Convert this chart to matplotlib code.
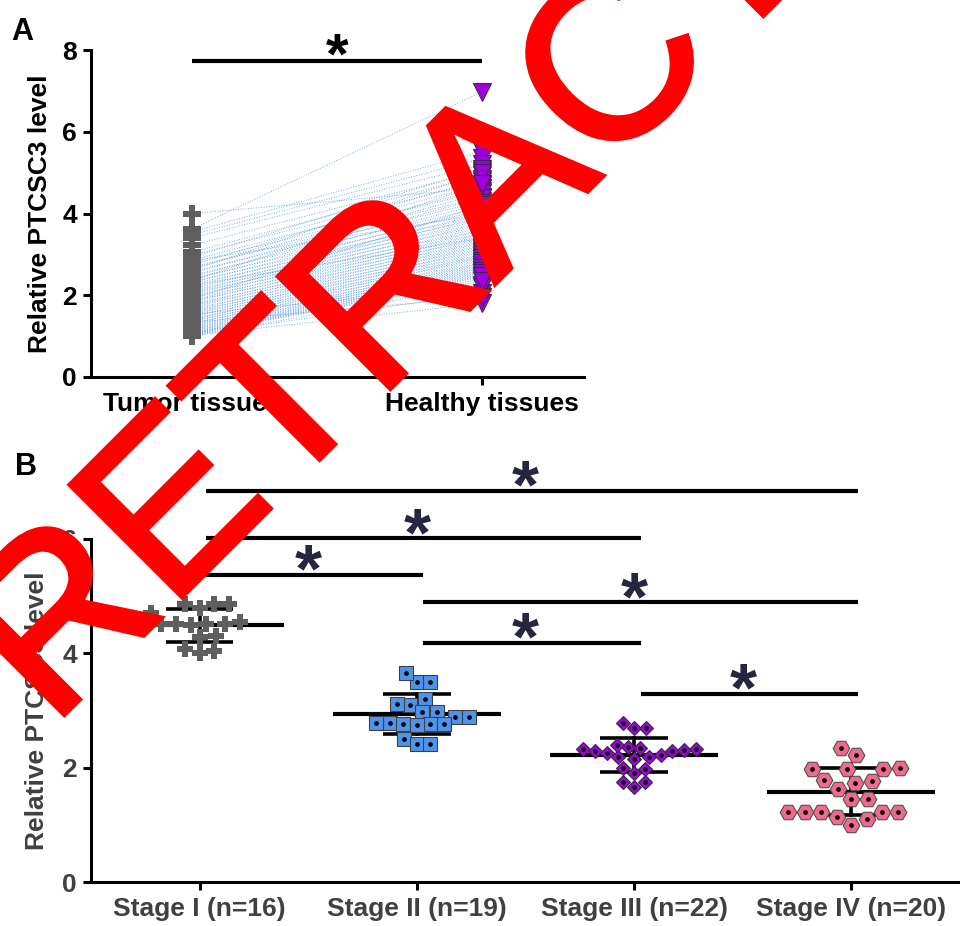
import matplotlib
matplotlib.use('Agg')
import matplotlib.pyplot as plt
import matplotlib.patheffects as pe
import numpy as np

plt.rcParams['font.family'] = ['Liberation Sans', 'DejaVu Sans']

# Panel A: paired samples (tumor vs matched healthy tissue)
pair_groups = ['Tumor tissues', 'Healthy tissues']
tumor = [4.00, 3.62, 3.55, 3.48, 3.40, 3.22, 3.05, 2.98, 2.93, 2.86,
         2.80, 2.74, 2.69, 2.65, 2.58, 2.54, 2.49, 2.45, 2.41, 2.37,
         2.33, 2.31, 2.27, 2.22, 2.19, 2.15, 2.12, 2.08, 2.06, 2.02,
         1.99, 1.96, 1.93, 1.88, 1.86, 1.83, 1.79, 1.76, 1.74, 1.70,
         1.67, 1.63, 1.61, 1.58, 1.56, 1.52, 1.49, 1.47, 1.43, 1.40,
         1.38, 1.35, 1.32, 1.30, 1.27, 1.24, 1.22, 1.19, 1.17, 1.15,
         1.13, 1.11, 1.09, 1.07, 1.06, 1.04, 1.03, 1.01, 1.00,
         2.61, 2.36, 1.91, 2.84, 2.25, 1.54, 1.34, 1.05]
healthy = [4.62, 6.98, 5.52, 5.35, 5.20, 5.05, 4.95, 4.80, 5.10, 4.70,
           4.55, 4.85, 4.40, 4.62, 4.30, 4.50, 4.15, 4.38, 4.05, 4.25,
           3.95, 4.10, 3.88, 4.00, 3.78, 3.92, 3.70, 3.85, 3.60, 3.75,
           3.52, 3.66, 3.45, 3.58, 3.38, 3.50, 3.30, 3.42, 3.22, 3.35,
           3.15, 3.28, 3.08, 3.20, 3.00, 3.12, 2.94, 3.05, 2.88, 2.98,
           2.80, 2.92, 2.74, 2.85, 2.68, 2.78, 2.62, 2.72, 2.56, 2.66,
           2.50, 2.60, 2.45, 2.54, 2.40, 2.48, 2.05, 1.80, 2.25,
           5.00, 4.72, 4.20, 3.98, 3.40, 2.20, 1.95, 2.35]

# Panel B: expression by clinical stage
stages = ['Stage I (n=16)', 'Stage II (n=19)', 'Stage III (n=22)', 'Stage IV (n=20)']
stage1 = [4.86, 4.86, 4.86, 4.80, 4.70, 4.55, 4.52, 4.52, 4.50, 4.52,
          4.52, 4.30, 4.28, 4.08, 4.00, 4.04]
stage2 = [3.50, 3.50, 3.65, 3.20, 3.09, 3.12, 2.97, 2.97, 2.89, 2.78,
          2.76, 2.76, 2.75, 2.77, 2.78, 2.89, 2.50, 2.41, 2.41]
stage3 = [2.78, 2.70, 2.70, 2.37, 2.32, 2.30, 2.31, 2.22, 2.18, 2.16,
          2.18, 2.25, 2.30, 2.34, 2.32, 2.40, 1.98, 1.99, 1.75, 1.67,
          1.75, 1.91]
stage4 = [2.34, 2.22, 1.98, 1.98, 1.98, 1.99, 1.78, 1.73, 1.77, 1.63,
          1.45, 1.45, 1.22, 1.22, 1.14, 1.00, 1.10, 1.22, 1.22, 1.22]
stage_data = [stage1, stage2, stage3, stage4]

# significant comparisons (group i, group j) and bar heights
comparisons = [(0, 3), (0, 2), (0, 1), (1, 3), (1, 2), (2, 3)]
comp_heights = [6.84, 6.01, 5.37, 4.89, 4.18, 3.29]

W, H = 960, 926
fig = plt.figure(figsize=(W / 100, H / 100), dpi=100)


def style_axis(ax, color):
    for s in ['top', 'right']:
        ax.spines[s].set_visible(False)
    for s in ['left', 'bottom']:
        ax.spines[s].set_linewidth(2.2)
        ax.spines[s].set_color('black')
    ax.tick_params(width=2.2, length=6, color='black', labelcolor=color,
                   labelsize=19, pad=4)
    for lab in ax.get_xticklabels() + ax.get_yticklabels():
        lab.set_fontweight('bold')


def swarm_offsets(vals, d, ppx, ppy):
    # simple beeswarm layout in pixel space
    y = np.asarray(vals) * ppy
    xs = np.zeros(len(y))
    placed = []
    for i in np.argsort(y, kind='stable'):
        cands = [0.0]
        for j in placed:
            dy = y[i] - y[j]
            if abs(dy) < d:
                dx = np.sqrt(d * d - dy * dy)
                cands += [xs[j] + dx, xs[j] - dx]
        cands.sort(key=abs)
        for c in cands:
            if all((c - xs[j]) ** 2 + (y[i] - y[j]) ** 2 >= d * d - 1e-6 for j in placed):
                xs[i] = c
                break
        placed.append(i)
    return xs / ppx


# ---------------- Panel A ----------------
axA = fig.add_axes([91 / W, (H - 377) / H, (584 - 91) / W, (377 - 50) / H])
for t, h in zip(tumor, healthy):
    axA.plot([0, 1], [t, h], linestyle=':', color='#4a90e2', lw=0.7, alpha=0.75, zorder=2)
axA.plot(np.zeros(len(tumor)), tumor, 'P', ms=13, color='#5f5f5f', mec='#5f5f5f',
         mew=0, zorder=4, clip_on=False)
axA.plot(np.ones(len(healthy)), healthy, 'v', ms=12.5, color='#a000e0', mec='#3a2a4a',
         mew=0.8, zorder=4, clip_on=False)
axA.set_xlim(-0.347, 1.35)
axA.set_ylim(0, 8)
axA.set_yticks([0, 2, 4, 6, 8])
axA.set_xticks([0, 1])
axA.set_xticklabels(pair_groups)
style_axis(axA, 'black')
axA.tick_params(axis='x', pad=5)
axA.set_ylabel('Relative PTCSC3 level', fontsize=19, fontweight='bold', color='black')
axA.yaxis.set_label_coords(-0.08, 0.5)
axA.plot([0, 1], [7.72, 7.72], color='black', lw=3, clip_on=False, solid_capstyle='butt')
axA.annotate('*', xy=(0.5, 7.72), xytext=(0, -9), textcoords='offset points',
             ha='center', va='baseline', fontsize=42, fontweight='bold', color='black')

# ---------------- Panel B ----------------
axB = fig.add_axes([91 / W, (H - 882) / H, (W - 91) / W, (882 - 539) / H])
axB.set_xlim(-0.5, 3.5)
axB.set_ylim(0, 6)
ppx = (W - 91) / 4.0
ppy = (882 - 539) / 6.0

markers = [
    dict(marker='P', ms=11.5, mfc='#5f5f5f', mec='#5f5f5f', mew=0, d=15, dot=False),
    dict(marker='s', ms=9.5, mfc='#4d94ee', mec='#404040', mew=0.8, d=13.5, dot=True),
    dict(marker='D', ms=7.3, mfc='#a000e0', mec='#303030', mew=0.8, d=12, dot=True),
    dict(marker='H', ms=12, mfc='#f06a8e', mec='#505050', mew=0.8, d=16.5, dot=True),
]

for i, (vals, m) in enumerate(zip(stage_data, markers)):
    vals = np.asarray(vals)
    mean = vals.mean()
    sd = vals.std(ddof=1)
    axB.plot([i - 0.387, i + 0.387], [mean, mean], color='black', lw=3, zorder=2,
             solid_capstyle='butt')
    axB.plot([i, i], [mean - sd, mean + sd], color='black', lw=2.6, zorder=2)
    for yy in (mean - sd, mean + sd):
        axB.plot([i - 0.155, i + 0.155], [yy, yy], color='black', lw=2.6, zorder=2,
                 solid_capstyle='butt')
    xo = i + swarm_offsets(vals, m['d'], ppx, ppy)
    axB.plot(xo, vals, linestyle='none', marker=m['marker'], ms=m['ms'], mfc=m['mfc'],
             mec=m['mec'], mew=m['mew'], zorder=3)
    if m['dot']:
        axB.plot(xo, vals, linestyle='none', marker='o', ms=2.4, color='black', zorder=4)

for (i, j), yb in zip(comparisons, comp_heights):
    axB.plot([i + 0.03, j + 0.03], [yb, yb], color='black', lw=3, clip_on=False,
             solid_capstyle='butt', zorder=5)
    axB.annotate('*', xy=((i + j) / 2, yb), xytext=(0, -12), textcoords='offset points',
                 ha='center', va='baseline', fontsize=50, fontweight='bold',
                 color='#262640', annotation_clip=False)

axB.set_yticks([0, 2, 4, 6])
axB.set_xticks(range(4))
axB.set_xticklabels(stages)
style_axis(axB, '#404040')
axB.tick_params(axis='x', pad=5)
axB.set_ylabel('Relative PTCSC3 level', fontsize=19, fontweight='bold', color='#404040')
axB.yaxis.set_label_coords(-0.048, 0.5)

# panel letters
fig.text(11 / W, 1 - 40 / H, 'A', fontsize=22, fontweight='bold', va='baseline')
fig.text(15 / W, 1 - 475 / H, 'B', fontsize=22, fontweight='bold', va='baseline')

# retraction watermark
fig.text(51 / W, 1 - 728 / H, 'RETRACTED', rotation=45, rotation_mode='anchor',
         ha='left', va='baseline', fontsize=166, color='#ff0000', zorder=10,
         path_effects=[pe.withStroke(linewidth=3.5, foreground='#ff0000',
                                     joinstyle='miter')])

fig.savefig('out.png', dpi=100)
